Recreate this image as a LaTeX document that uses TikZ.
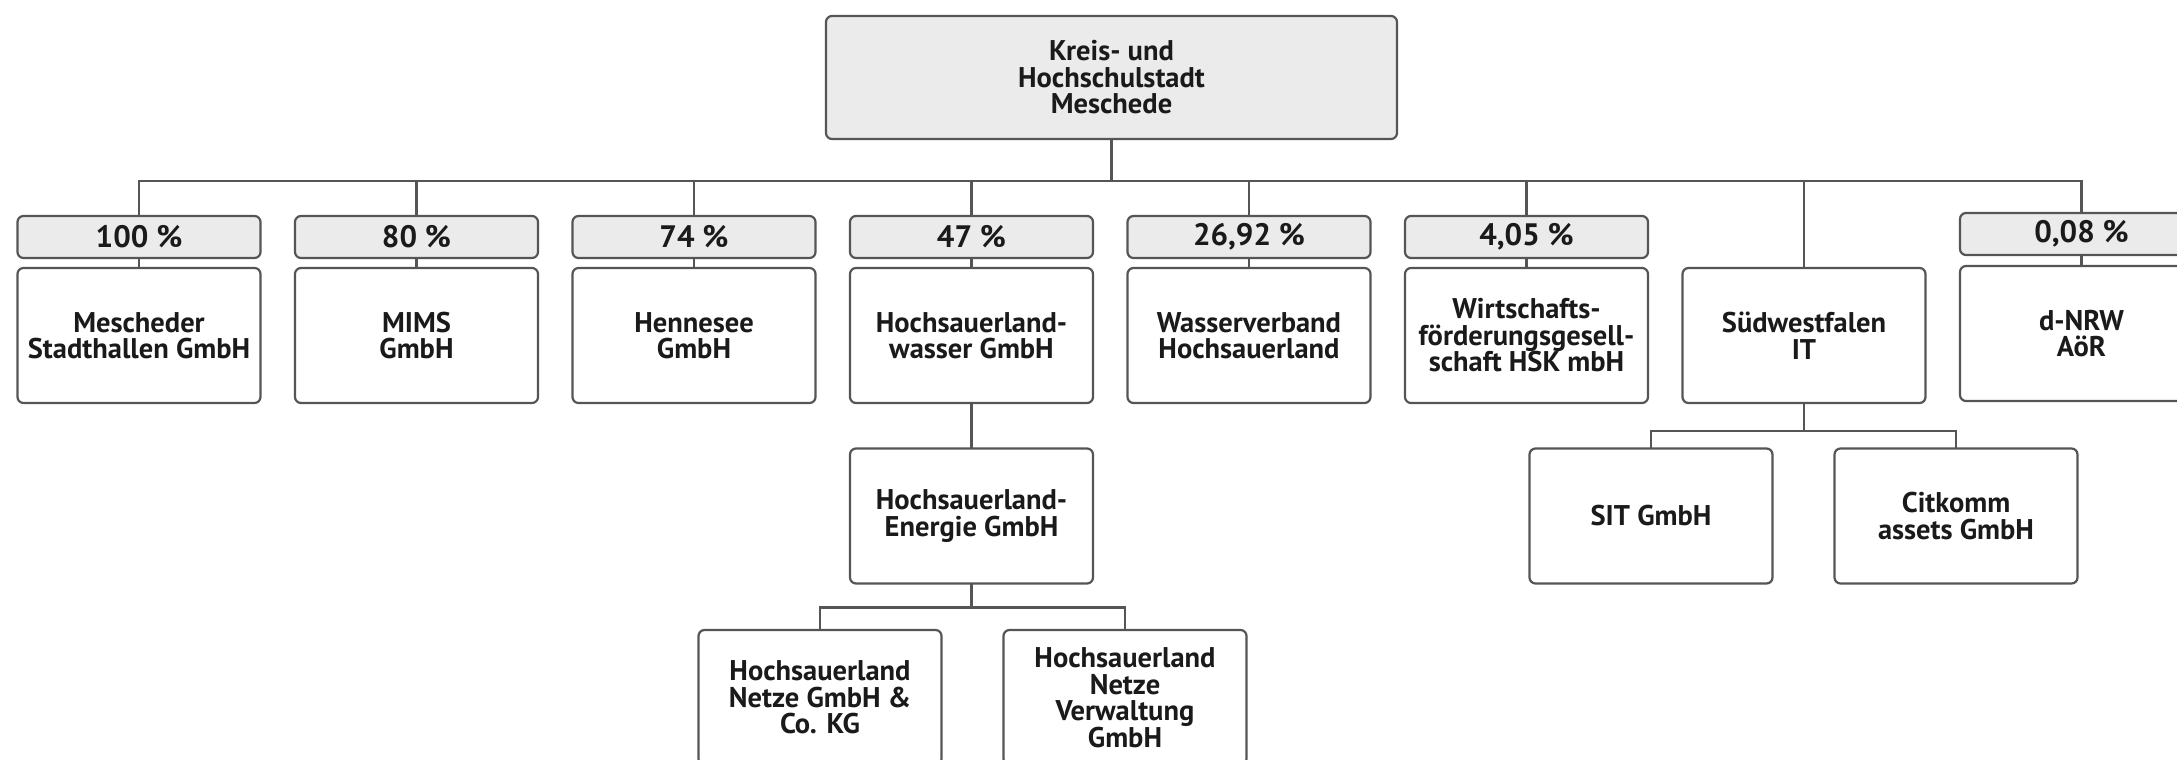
\documentclass[tikz,border=0pt]{standalone}
\usepackage{fontspec}
\setmainfont{PT Sans}
\definecolor{ln}{HTML}{555555}
\definecolor{txt}{HTML}{1A1A1A}
\definecolor{pctfill}{HTML}{EBEBEB}
\newcommand\nmfont{\fontsize{28.5}{26.5}\selectfont\bfseries}
\newcommand\pcfont{\fontsize{31}{32}\selectfont\bfseries}
\begin{document}
\begin{tikzpicture}[x=1pt,y=-1pt,
  every node/.style={inner sep=0pt, outer sep=0pt, align=center, font=\nmfont, text=txt},
  box/.style={draw=ln, line width=2.2pt, rounded corners=6pt, fill=white, minimum width=243pt, minimum height=135pt},
  pct/.style={box, fill=pctfill, minimum height=42pt, font=\pcfont},
  conn/.style={draw=ln, line width=2.2pt}
]
\useasboundingbox (0,0) rectangle (2177,760);
\clip (0,0) rectangle (2177,760);
\fill[white] (0,0) rectangle (2177,760);

\node[box, fill=pctfill, minimum width=571pt, minimum height=123pt] (top) at (1111.5,77.5) {Kreis- und\\Hochschulstadt\\Meschede};

\node[pct] (p1) at (139,237) {100 \%};
\node[box] (m1) at (139,335.5) {Mescheder\\Stadthallen GmbH};
\node[pct] (p2) at (416.5,237) {80 \%};
\node[box] (m2) at (416.5,335.5) {MIMS\\GmbH};
\node[pct] (p3) at (694,237) {74 \%};
\node[box] (m3) at (694,335.5) {Hennesee\\GmbH};
\node[pct] (p4) at (971.5,237) {47 \%};
\node[box] (m4) at (971.5,335.5) {Hochsauerland-\\wasser GmbH};
\node[pct] (p5) at (1249,237) {26,92 \%};
\node[box] (m5) at (1249,335.5) {Wasserverband\\Hochsauerland};
\node[pct] (p6) at (1526.5,237) {4,05 \%};
\node[box] (m6) at (1526.5,335.5) {Wirtschafts-\\förderungsgesell-\\schaft HSK mbH};
\node[box] (m7) at (1804,335.5) {Südwestfalen\\IT};
\node[pct] (p8) at (2081.5,234) {0,08 \%};
\node[box] (m8) at (2081.5,333.5) {d-NRW\\AöR};

\node[box] (e) at (971.5,516) {Hochsauerland-\\Energie GmbH};
\node[box] (n1) at (820,697.5) {Hochsauerland\\Netze GmbH \&\\Co. KG};
\node[box] (n2) at (1125,697.5) {Hochsauerland\\Netze\\Verwaltung\\GmbH};
\node[box] (sit) at (1651,516) {SIT GmbH};
\node[box] (cit) at (1956,516) {Citkomm\\assets GmbH};

\coordinate (bus) at (0,181);
\foreach \n in {p1,p2,p3,p4,p5,p6,m7,p8}
  \draw[conn] (top.south) -- (top.south |- bus) -| (\n.north);
\foreach \i in {1,2,3,4,5,6,8}
  \draw[conn] (p\i.south) -- (m\i.north);
\draw[conn] (m4.south) -- (e.north);
\draw[conn] (e.south) -- ++(0,24) -| (n1.north);
\draw[conn] (e.south) -- ++(0,24) -| (n2.north);
\draw[conn] (m7.south) -- ++(0,28) -| (sit.north);
\draw[conn] (m7.south) -- ++(0,28) -| (cit.north);
\end{tikzpicture}
\end{document}
